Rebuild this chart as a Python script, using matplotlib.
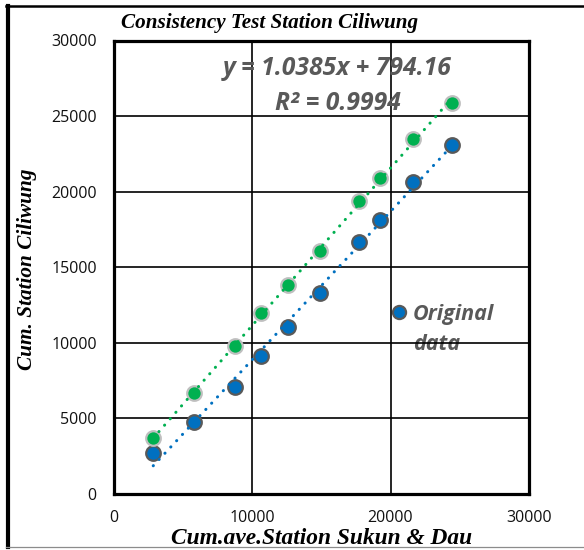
import numpy as np
import matplotlib
matplotlib.use("Agg")
import matplotlib.pyplot as plt
from matplotlib.lines import Line2D

# ---- data ----
x_cum_avg = [2870, 5830, 8770, 10650, 12580, 14910, 17750, 19260, 21600, 24460]
y_original = [2690, 4780, 7100, 9150, 11070, 13320, 16650, 18130, 20660, 23090]
y_corrected = [3720, 6660, 9810, 11950, 13830, 16060, 19400, 20880, 23460, 25890]
x_ticks = [0, 10000, 20000, 30000]
y_ticks = [0, 5000, 10000, 15000, 20000, 25000, 30000]
equation_text = "y = 1.0385x + 794.16\nR² = 0.9994"
title_text = "Consistency Test Station Ciliwung"
xlabel_text = "Cum.ave.Station Sukun & Dau"
ylabel_text = "Cum. Station Ciliwung"

BLUE = "#0070C0"
GREEN = "#00B050"
GRAY_TXT = "#595959"

W, H = 584, 550
fig = plt.figure(figsize=(W / 100, H / 100), dpi=100)
fig.patch.set_facecolor("white")

L, R, T, B = 113.5, 529.0, 40.5, 494.0
ax = fig.add_axes([L / W, 1 - B / H, (R - L) / W, (B - T) / H])

x = np.array(x_cum_avg, float)
yo = np.array(y_original, float)
yc = np.array(y_corrected, float)

# trendlines (linear fits of each series)
xx = np.array([x.min(), x.max()])
for yy, col in ((yo, BLUE), (yc, GREEN)):
    p = np.polyfit(x, yy, 1)
    ax.plot(xx, np.polyval(p, xx), color=col, lw=2.2,
            linestyle=(0, (0.05, 2.75)), dash_capstyle="round", zorder=4)

h_orig, = ax.plot(x, yo, "o", ms=10.5, mfc=BLUE, mec="#595959", mew=1.6,
                  linestyle="none", zorder=3)
ax.plot(x, yc, "o", ms=10.5, mfc=GREEN, mec="#BFBFBF", mew=1.6,
        linestyle="none", zorder=3)

ax.set_xlim(0, 30000)
ax.set_ylim(0, 30000)
ax.set_xticks(x_ticks)
ax.set_yticks(y_ticks)
ax.set_xticklabels([str(v) for v in x_ticks])
ax.set_yticklabels([str(v) for v in y_ticks])
ax.tick_params(length=0, labelsize=11.5, labelcolor="#111111")
ax.tick_params(axis="y", pad=12)
ax.tick_params(axis="x", pad=11.5)
for lab in ax.get_xticklabels() + ax.get_yticklabels():
    lab.set_fontfamily("Open Sans")

ax.set_axisbelow(False)
ax.grid(True, color="black", lw=1.2, zorder=2.5)
for s in ax.spines.values():
    s.set_linewidth(2.3)
    s.set_color("black")

# equation
ax.text((337.5 - L) / (R - L), (B - 86) / (B - T), equation_text,
        transform=ax.transAxes, ha="center", va="center", multialignment="center",
        fontsize=17.7, fontweight="bold", fontstyle="italic", family="Open Sans",
        color=GRAY_TXT, linespacing=1.55, zorder=6)

# legend
blank = Line2D([], [], linestyle="none")
leg = ax.legend([h_orig, blank], ["Original", "data"],
                loc="upper left", bbox_to_anchor=((392.5 - L) / (R - L), (B - 304) / (B - T)),
                frameon=False, handlelength=0.6, handletextpad=0.35, borderpad=0,
                borderaxespad=0, labelspacing=0.42, markerscale=0.9,
                prop={"family": "Open Sans", "weight": "bold", "style": "italic", "size": 15.5})
for t in leg.get_texts():
    t.set_color(GRAY_TXT)
leg.set_zorder(1)

# titles
serif = dict(family="Liberation Serif", fontweight="bold", fontstyle="italic", color="black")
fig.text(270 / W, 1 - 28 / H, title_text, ha="center", va="baseline", fontsize=15.2, **serif)
fig.text(321.5 / W, 1 - 544.5 / H, xlabel_text, ha="center", va="baseline", fontsize=16.8, **serif)
fig.text(27 / W, 1 - 269 / H, ylabel_text, ha="center", va="center", rotation=90, fontsize=15.3, **serif)

# outer frame
fig.add_artist(Line2D([8 / W, 8 / W], [1 - 6 / H, 1 - 547 / H], transform=fig.transFigure,
                      color="black", lw=3))
fig.add_artist(Line2D([6 / W, 1], [1 - 6 / H, 1 - 6 / H], transform=fig.transFigure,
                      color="black", lw=1.8))
fig.add_artist(Line2D([6 / W, 1], [1 - 547 / H, 1 - 547 / H], transform=fig.transFigure,
                      color="#8c8c8c", lw=0.9))

fig.savefig("out.png", dpi=100, facecolor="white")
